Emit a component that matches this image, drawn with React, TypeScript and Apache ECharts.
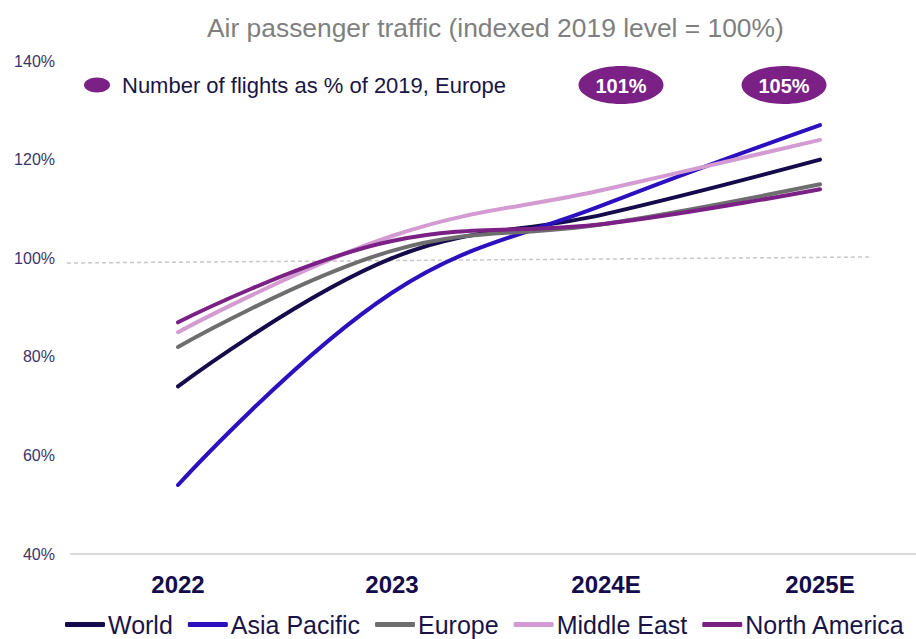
import React, { useEffect, useRef } from "react";
import * as echarts from "echarts";

const categories = ["2022", "2023", "2024E", "2025E"];
const seriesNames = ["World", "Asia Pacific", "Europe", "Middle East", "North America"];
const world = [74, 100, 109, 120];
const asiaPacific = [54, 93, 111, 127];
const europe = [82, 101.5, 107, 115];
const middleEast = [85, 104.5, 114, 124];
const northAmerica = [87, 103.5, 107, 114];
const seriesColors = ["#130b4b", "#2a10bf", "#6e6e6e", "#d39bd1", "#7b2085"];
const flightsLabel = "Number of flights as % of 2019, Europe";
const flightsPct = ["101%", "105%"];
const yTicks = { min: 40, max: 140, interval: 20 };
const titleText = "Air passenger traffic (indexed 2019 level = 100%)";

const FONT = "'Liberation Sans', Arial, sans-serif";

export default function App() {
  const ref = useRef<HTMLDivElement>(null);
  useEffect(() => {
    document.body.style.margin = "0";
    const chart = echarts.init(ref.current!, null, { renderer: "svg" });
    const values = [world, asiaPacific, europe, middleEast, northAmerica];
    const ellipseX = [621, 784];
    chart.setOption({
      animation: false,
      textStyle: { fontFamily: FONT },
      title: {
        text: titleText,
        left: 202,
        top: 10,
        textStyle: { fontSize: 26.4, fontWeight: "normal", color: "#7f7f7f", fontFamily: FONT },
      },
      grid: { left: 71, top: 61, width: 856, height: 493, containLabel: false },
      legend: {
        data: seriesNames,
        left: 60,
        top: 607,
        icon: "roundRect",
        itemWidth: 40,
        itemHeight: 5,
        itemGap: 15,
        textStyle: { fontSize: 25, color: "#1a1446", fontFamily: FONT, padding: [0, 0, 0, -2] },
      },
      xAxis: {
        type: "category",
        data: categories,
        boundaryGap: true,
        axisLine: { lineStyle: { color: "#d9d9d9", width: 2 } },
        axisTick: { show: false },
        axisLabel: { fontSize: 24, fontWeight: "bold", color: "#130b4b", margin: 18, fontFamily: FONT },
      },
      yAxis: {
        type: "value",
        min: yTicks.min,
        max: yTicks.max,
        interval: yTicks.interval,
        axisLine: { show: false },
        axisTick: { show: false },
        splitLine: { show: false },
        axisLabel: { formatter: "{value}%", fontSize: 16, color: "#3a356b", margin: 16, fontFamily: FONT },
      },
      series: seriesNames.map((name, i) => ({
        name,
        type: "line",
        data: values[i],
        smooth: 0.4,
        symbol: "none",
        color: seriesColors[i],
        lineStyle: { width: 4, color: seriesColors[i], cap: "round" },
      })),
      graphic: [
        {
          type: "line",
          shape: { x1: 67, y1: 263, x2: 870, y2: 257 },
          style: { stroke: "#c8c8c8", lineWidth: 1.5, lineDash: [4, 3] },
          z: 0,
        },
        {
          type: "ellipse",
          shape: { cx: 97, cy: 85, rx: 13, ry: 7.5 },
          style: { fill: "#7b2085" },
        },
        {
          type: "text",
          x: 122,
          y: 85,
          style: {
            text: flightsLabel,
            fontSize: 22,
            fill: "#1a1446",
            fontFamily: FONT,
            verticalAlign: "middle",
          },
        },
        ...flightsPct.map((t, i) => ({
          type: "group",
          children: [
            {
              type: "ellipse",
              shape: { cx: ellipseX[i], cy: 85, rx: 42.5, ry: 19 },
              style: { fill: "#7b2085" },
            },
            {
              type: "text",
              x: ellipseX[i],
              y: 86,
              style: {
                text: t,
                fontSize: 20,
                fontWeight: "bold",
                fill: "#ffffff",
                fontFamily: FONT,
                align: "center",
                verticalAlign: "middle",
              },
            },
          ],
        })),
      ],
    });
    return () => chart.dispose();
  }, []);
  return (
    <div style={{ width: 916, height: 639, overflow: "hidden", position: "relative" }}>
      <div ref={ref} style={{ width: 940, height: 639 }} />
    </div>
  );
}
